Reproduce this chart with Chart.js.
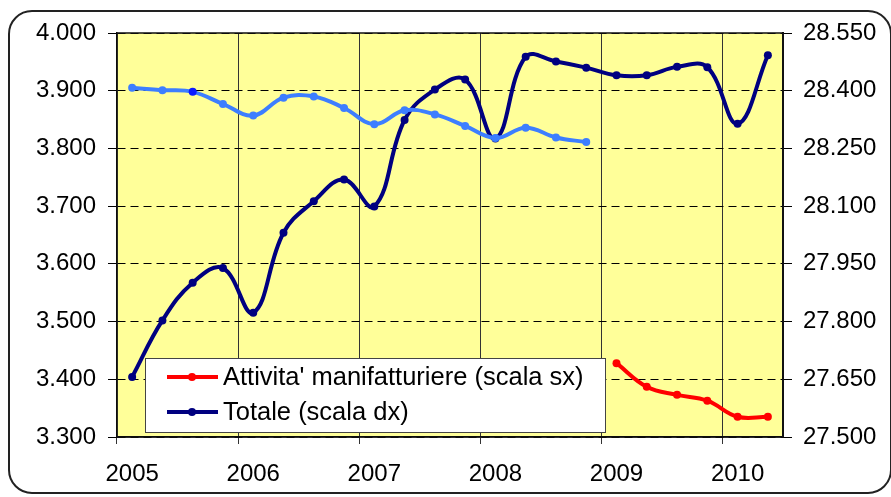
<!DOCTYPE html>
<html>
<head>
<meta charset="utf-8">
<script src="https://cdn.jsdelivr.net/npm/chart.js@4"></script>
<style>
  html, body { margin: 0; padding: 0; background: #fff; }
  #wrap { position: relative; width: 891px; height: 497px; overflow: hidden; }
  #frame {
    position: absolute; left: 8px; top: 10px; width: 884px; height: 484px;
    border: 2px solid #222; border-radius: 24px; box-sizing: border-box;
  }
  canvas { position: absolute; left: 0; top: 0; }
</style>
</head>
<body>
<div id="wrap">
  <div id="frame"></div>
  <canvas id="chart" width="891" height="497"></canvas>
</div>
<script>
// quarters 2005 T1 .. 2010 T2
const quarters = [
  '2005 T1', '2005 T2', '2005 T3', '2005 T4',
  '2006 T1', '2006 T2', '2006 T3', '2006 T4',
  '2007 T1', '2007 T2', '2007 T3', '2007 T4',
  '2008 T1', '2008 T2', '2008 T3', '2008 T4',
  '2009 T1', '2009 T2', '2009 T3', '2009 T4',
  '2010 T1', '2010 T2'
];
const years = ['2005', '2006', '2007', '2008', '2009', '2010'];

// thousands, left scale (old series, no legend entry)
const manifOld = [3905, 3901, 3898, 3877, 3857, 3888, 3890, 3870,
  3842, 3866, 3859, 3839, 3818, 3836, 3819, 3811,
  null, null, null, null, null, null];
// thousands, left scale
const manifNew = [null, null, null, null, null, null, null, null,
  null, null, null, null, null, null, null, null,
  3428, 3387, 3373, 3363, 3335, 3335];
// thousands, right scale
const totale = [27656, 27803, 27901, 27939, 27823, 28031, 28113, 28169,
  28099, 28324, 28403, 28429, 28276, 28488, 28476, 28460,
  28440, 28440, 28462, 28461, 28314, 28492];

const fmt = v => (v / 1000).toFixed(3);

const plotBg = {
  id: 'plotBg',
  beforeDraw(chart) {
    const {ctx, chartArea: a} = chart;
    ctx.save();
    ctx.fillStyle = '#ffff99';
    ctx.fillRect(a.left, a.top, a.right - a.left, a.bottom - a.top);
    ctx.restore();
  },
  beforeDatasetsDraw(chart) {
    const {ctx, chartArea: a} = chart;
    ctx.save();
    ctx.strokeStyle = '#111';
    ctx.lineWidth = 1.5;
    ctx.strokeRect(a.left, a.top, a.right - a.left, a.bottom - a.top);
    ctx.lineWidth = 2;
    ctx.beginPath();
    ctx.moveTo(a.right, a.top);
    ctx.lineTo(a.right, a.bottom);
    ctx.stroke();
    ctx.restore();
  }
};

// legend box inside the plot, like the Excel one
const boxLegend = {
  id: 'boxLegend',
  afterDraw(chart) {
    const ctx = chart.ctx;
    const items = chart.data.datasets.filter(d => d.inLegend);
    const x = 145, y = 358, w = 460, h = 74;
    ctx.save();
    ctx.fillStyle = '#fff';
    ctx.fillRect(x, y, w, h);
    ctx.strokeStyle = '#444';
    ctx.lineWidth = 1;
    ctx.strokeRect(x + 0.5, y + 0.5, w, h);
    ctx.font = '25.5px "Liberation Sans", Arial, sans-serif';
    ctx.textBaseline = 'middle';
    items.forEach((d, i) => {
      const cy = y + 19 + i * 35;
      ctx.strokeStyle = d.borderColor;
      ctx.lineWidth = 4;
      ctx.beginPath();
      ctx.moveTo(167, cy);
      ctx.lineTo(218, cy);
      ctx.stroke();
      ctx.fillStyle = d.borderColor;
      ctx.beginPath();
      ctx.arc(192, cy, 4, 0, Math.PI * 2);
      ctx.fill();
      ctx.fillStyle = '#000';
      ctx.fillText(d.label, 223, cy + 1);
    });
    ctx.restore();
  }
};

const tickFont = { family: '"Liberation Sans", Arial, sans-serif', size: 24 };

new Chart(document.getElementById('chart').getContext('2d'), {
  type: 'line',
  data: {
    labels: quarters,
    datasets: [
      {
        label: 'Attivita\' manifatturiere (vecchia serie)',
        data: manifOld,
        yAxisID: 'y',
        borderColor: '#3d7eff',
        backgroundColor: '#3d7eff',
        pointBackgroundColor: manifOld.map((v, i) => i === 2 ? '#0a1aff' : '#3d7eff'),
        borderWidth: 4,
        pointRadius: 4,
        pointBorderWidth: 0,
        tension: 0.4,
        inLegend: false
      },
      {
        label: 'Attivita\' manifatturiere (scala sx)',
        data: manifNew,
        yAxisID: 'y',
        borderColor: '#ff0000',
        backgroundColor: '#ff0000',
        borderWidth: 4,
        pointRadius: 4,
        pointBorderWidth: 0,
        tension: 0.4,
        inLegend: true
      },
      {
        label: 'Totale (scala dx)',
        data: totale,
        yAxisID: 'y2',
        borderColor: '#000080',
        backgroundColor: '#000080',
        borderWidth: 4,
        pointRadius: 4,
        pointBorderWidth: 0,
        tension: 0.4,
        inLegend: true
      }
    ]
  },
  options: {
    responsive: false,
    animation: false,
    devicePixelRatio: 1,
    layout: { padding: { top: 33, left: 0, right: 0, bottom: 0 } },
    plugins: { legend: { display: false }, tooltip: { enabled: false } },
    scales: {
      x: {
        offset: true,
        grid: {
          offset: true,
          color: c => (c.index % 4 === 0 && c.index < quarters.length) ? '#333' : 'rgba(0,0,0,0)',
          tickColor: c => (c.index % 4 === 0) ? '#333' : 'rgba(0,0,0,0)',
          tickLength: 7,
          lineWidth: 1
        },
        border: { color: '#000', width: 1.5 },
        ticks: {
          autoSkip: false,
          maxRotation: 0,
          padding: 16,
          color: '#000',
          font: tickFont,
          callback: (v, i) => i % 4 === 0 ? years[i / 4] : ''
        },
        afterFit: s => { s.height = 60; }
      },
      y: {
        position: 'left',
        min: 3300,
        max: 4000,
        grid: { color: '#000', lineWidth: 1, tickLength: 9, tickColor: '#000' },
        border: { color: '#000', width: 1.5, dash: [8, 5] },
        ticks: { stepSize: 100, padding: 12, color: '#000', font: tickFont, callback: fmt },
        afterFit: s => { s.width = 117; }
      },
      y2: {
        position: 'right',
        min: 27500,
        max: 28550,
        grid: { drawOnChartArea: false, tickLength: 9, tickColor: '#000' },
        border: { color: '#000', width: 2 },
        ticks: { stepSize: 150, padding: 11, color: '#000', font: tickFont, callback: fmt },
        afterFit: s => { s.width = 108; }
      }
    }
  },
  plugins: [plotBg, boxLegend]
});
</script>
</body>
</html>
